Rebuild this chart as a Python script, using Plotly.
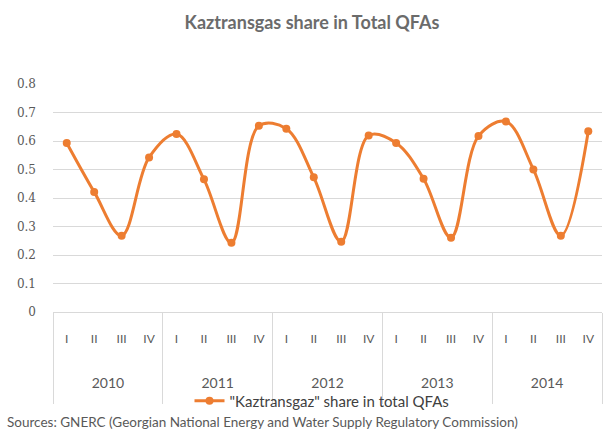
import plotly.graph_objects as go

years = ["2010", "2011", "2012", "2013", "2014"]
quarters = ["I", "II", "III", "IV"]
share = [0.594, 0.422, 0.268, 0.543,
         0.625, 0.466, 0.243, 0.654,
         0.644, 0.473, 0.247, 0.620,
         0.594, 0.468, 0.261, 0.618,
         0.669, 0.501, 0.268, 0.635]

nq = len(quarters)
n = len(years) * nq
pos = list(range(n))
q_labels = [q for _ in years for q in quarters]
year_centers = [i * nq + (nq - 1) / 2 for i in range(len(years))]
boundaries = [i * nq - 0.5 for i in range(len(years) + 1)]

fig = go.Figure()
fig.add_trace(go.Scatter(
    x=pos, y=share,
    mode="lines+markers",
    line=dict(color="#ED7D31", width=3, shape="spline", smoothing=1),
    marker=dict(color="#ED7D31", size=8),
    name='"Kaztransgaz" share in total QFAs',
))
fig.add_trace(go.Scatter(
    x=pos, y=share, xaxis="x2", mode="lines", opacity=0,
    showlegend=False, hoverinfo="skip",
))

fig.update_layout(
    width=603, height=431,
    paper_bgcolor="white", plot_bgcolor="white",
    margin=dict(l=53, r=1, t=84, b=119, autoexpand=False),
    title=dict(text="<b>Kaztransgas share in Total QFAs</b>", x=312/603, xanchor="center",
               y=1 - 23/431, yanchor="middle",
               font=dict(family="Lato", size=18, color="#6b6b6b")),
    font=dict(family="Liberation Sans", color="#595959"),
    showlegend=True,
    legend=dict(orientation="h", xref="container", yref="container",
                x=322/603, xanchor="center", y=1 - 401/431, yanchor="middle",
                itemwidth=30,
                font=dict(family="Lato", size=15, color="#404040"),
                bgcolor="rgba(0,0,0,0)"),
    annotations=[dict(
        text="Sources: GNERC (Georgian National Energy and Water Supply Regulatory Commission)",
        xref="paper", yref="paper", x=-48/549, y=(312-422)/228,
        xanchor="left", yanchor="middle", showarrow=False,
        font=dict(family="Lato", size=13.5, color="#595959"))],
    xaxis=dict(range=[-0.5, n - 0.5], tickmode="array", tickvals=pos, ticktext=q_labels,
               ticks="", showline=True, linecolor="#D9D9D9", linewidth=1,
               showgrid=False, zeroline=False, automargin=False,
               ticklabelstandoff=16,
               tickfont=dict(family="Lato", size=12, color="#595959"),
               minor=dict(tickmode="array", tickvals=boundaries, ticks="outside",
                          ticklen=91, tickcolor="#D9D9D9", tickwidth=1, showgrid=False)),
    xaxis2=dict(range=[-0.5, n - 0.5], overlaying="x", anchor="y", side="bottom",
                tickmode="array", tickvals=year_centers, ticktext=years,
                ticks="", showline=False, showgrid=False, zeroline=False,
                automargin=False, ticklabelstandoff=61,
                tickfont=dict(family="Lato", size=14, color="#595959")),
    yaxis=dict(range=[0, 0.801], tickmode="array",
               tickvals=[0, 0.1, 0.2, 0.3, 0.4, 0.5, 0.6, 0.7, 0.8],
               ticktext=["0", "0.1", "0.2", "0.3", "0.4", "0.5", "0.6", "0.7", "0.8"],
               showgrid=True, gridcolor="#D9D9D9", gridwidth=1, zeroline=False,
               showline=False, ticklabelstandoff=16, automargin=False,
               tickfont=dict(family="DejaVu Serif", size=12, color="#595959")),
)

fig.write_html("out.html", config={"displayModeBar": False},
               post_script="document.body.style.margin='0';")
